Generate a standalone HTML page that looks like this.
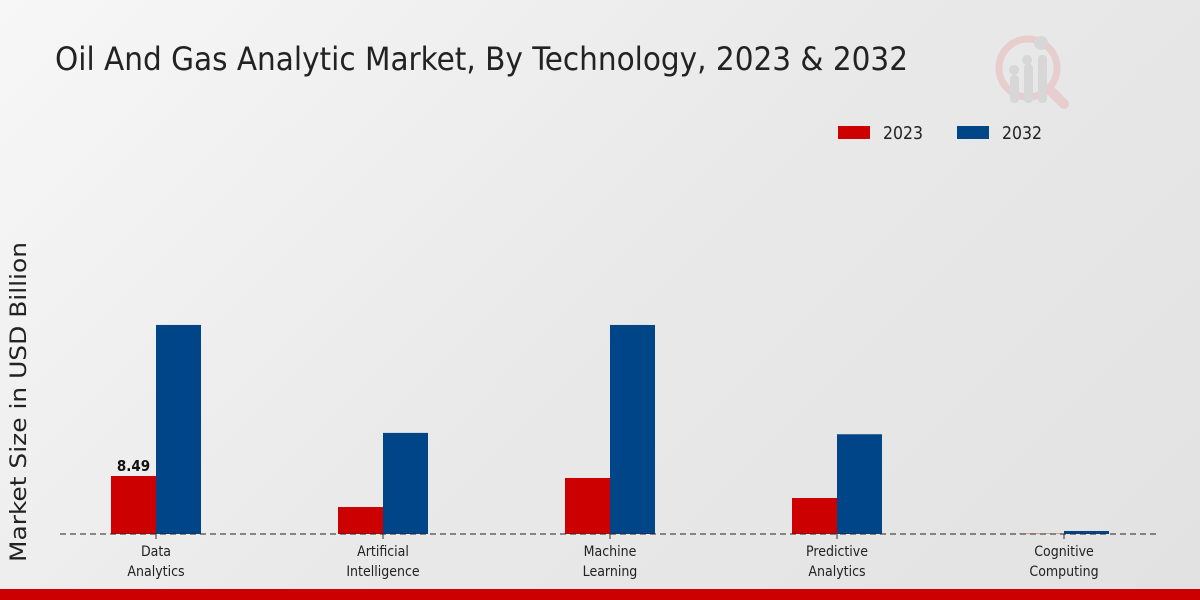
<!DOCTYPE html>
<html><head><meta charset="utf-8"><style>
html,body{margin:0;padding:0;width:1200px;height:600px;overflow:hidden}
body{background:linear-gradient(135deg,#f7f7f7 0%,#e9e9e9 50%,#e2e2e2 100%);font-family:"DejaVu Sans Condensed","DejaVu Sans","Liberation Sans",sans-serif}
svg text{font-family:"DejaVu Sans Condensed","DejaVu Sans","Liberation Sans",sans-serif}
</style></head><body>
<svg id="chart" width="1200" height="600" viewBox="0 0 1200 600" xmlns="http://www.w3.org/2000/svg" style="position:absolute;left:0;top:0">
  <g opacity="0.5">
    <circle cx="1028" cy="68" r="29" fill="none" stroke="#e8b4b4" stroke-width="7"/>
    <line x1="1050" y1="90" x2="1064" y2="104" stroke="#e8b4b4" stroke-width="10" stroke-linecap="round"/>
    <rect x="1010" y="75" width="9" height="28" rx="4" fill="#c8c8c8"/>
    <rect x="1024" y="64" width="9" height="39" rx="4" fill="#c8c8c8"/>
    <rect x="1038" y="55" width="9" height="48" rx="4" fill="#c8c8c8"/>
    <circle cx="1014" cy="70" r="5" fill="#c8c8c8"/><circle cx="1027" cy="60" r="5" fill="#c8c8c8"/><circle cx="1041" cy="43" r="7" fill="#c8c8c8"/>
  </g>
  <text x="55" y="70" font-size="32" fill="#222" textLength="853" lengthAdjust="spacingAndGlyphs">Oil And Gas Analytic Market, By Technology, 2023 &amp; 2032</text>
  <g>
    <rect x="838" y="126" width="32" height="13" fill="#cc0000"/>
    <text x="883" y="139" font-size="18" fill="#222" textLength="40" lengthAdjust="spacingAndGlyphs">2023</text>
    <rect x="957" y="126" width="32" height="13" fill="#004587"/>
    <text x="1002" y="139" font-size="18" fill="#222" textLength="40" lengthAdjust="spacingAndGlyphs">2032</text>
  </g>
  <text transform="translate(26,402) rotate(-90)" text-anchor="middle" font-size="22" fill="#222" textLength="320" lengthAdjust="spacingAndGlyphs">Market Size in USD Billion</text>
  <g id="bars"></g>
  <line x1="60" y1="534" x2="1160" y2="534" stroke="#222" stroke-width="1" stroke-dasharray="6,4"/>
  <g id="xlabels"></g>
  <rect x="0" y="589" width="1200" height="11" fill="#cc0000"/>
</svg>
<script>
const categories = [["Data","Analytics"],["Artificial","Intelligence"],["Machine","Learning"],["Predictive","Analytics"],["Cognitive","Computing"]];
const values2023 = [8.49, 3.95, 8.2, 5.27, 0.05];
const values2032 = [30.6, 14.8, 30.6, 14.6, 0.44];
const labelShown = ["8.49", null, null, null, null];
const NS = "http://www.w3.org/2000/svg";
const baseY = 534, pxPerUnit = 58/8.49;
const x0 = 156, step = 227, bw = 45;
function y(v){return baseY - v*pxPerUnit;}
function xc(i){return x0 + i*step;}
const bars = document.getElementById('bars');
const xl = document.getElementById('xlabels');
function mk(tag, attrs){const e=document.createElementNS(NS,tag);for(const k in attrs)e.setAttribute(k,attrs[k]);return e;}
categories.forEach((c,i)=>{
  const r = mk('rect',{x:xc(i)-bw,y:y(values2023[i]),width:bw,height:baseY-y(values2023[i]),fill:'#cc0000'});
  
  
  bars.appendChild(r);
  const b = mk('rect',{x:xc(i),y:y(values2032[i]),width:bw,height:baseY-y(values2032[i]),fill:'#004587'});
  
  
  bars.appendChild(b);
  if(labelShown[i]){
    const t = mk('text',{x:xc(i)-bw/2,y:y(values2023[i])-5,'text-anchor':'middle','font-size':'15','font-weight':'bold',fill:'#111'});
    
    
    t.textContent = labelShown[i];
    bars.appendChild(t);
  }
  const tk = mk('line',{x1:xc(i),y1:baseY,x2:xc(i),y2:baseY+5,stroke:'#333'});
  
  
  xl.appendChild(tk);
  c.forEach((line,j)=>{
    const t = mk('text',{x:xc(i),y:556+j*20,'text-anchor':'middle','font-size':'14',fill:'#222'});
    
    
    t.textContent = line;
    xl.appendChild(t);
  });
});
</script>
</body></html>
